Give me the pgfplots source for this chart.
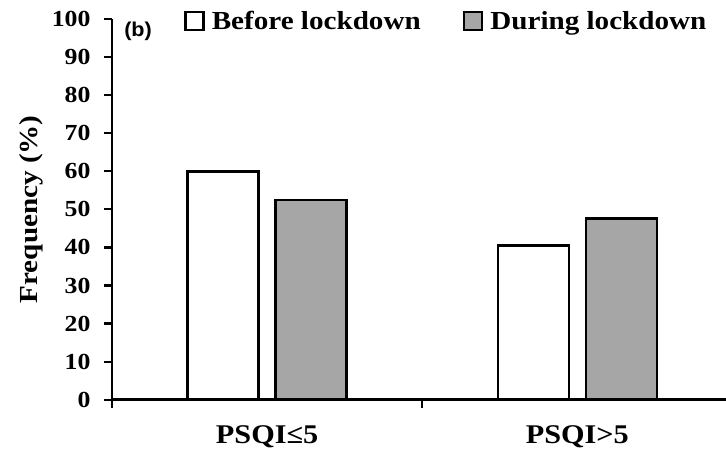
\documentclass[border=0pt]{standalone}
\usepackage{fontspec}
\setmainfont{Liberation Serif}[FakeStretch=1.12]
\newfontfamily\arialb{Liberation Sans}[FakeStretch=1.08]
\usepackage{pgfplots}
\pgfplotsset{compat=1.18}
\definecolor{barg}{RGB}{166,166,166}
\pgfplotsset{sqlegend/.style={legend image code/.code={\draw[##1,/tikz/.cd,line width=2.6pt] (0pt,-9pt) rectangle (18pt,9pt); \path (23pt,0pt);}}}
\begin{document}
\begin{tikzpicture}
\begin{axis}[
  scale only axis, width=620.5pt, height=380.7pt,
  xmin=0, xmax=2, ymin=0, ymax=100,
  axis lines*=left,
  axis line style={line width=2.6pt},
  ytick={0,10,...,100},
  xtick={0,1,2}, xticklabels={PSQI≤5, PSQI>5}, x tick label as interval,
  tick align=outside, major tick length=8pt,
  tick style={line width=2.2pt, black},
  /pgf/number format/assume math mode=true,
  yticklabel style={font=\fontsize{23}{25}\selectfont\bfseries, xshift=-10pt},
  xticklabel style={font=\fontsize{27}{29}\selectfont\bfseries, yshift=-14pt},
  ylabel={Frequency (\%)},
  ylabel style={font=\fontsize{26}{28}\selectfont\bfseries, at={(axis description cs:-0.1305,0.5)}, anchor=center},
  legend style={draw=none, fill=none, inner sep=0pt, at={(rel axis cs:0,1)}, anchor=north west, xshift=72pt, yshift=10pt,
    font=\fontsize{26}{28}\selectfont\bfseries, /tikz/every even column/.append style={column sep=40pt}},
  legend columns=2, legend cell align=left,
  clip=false,
]
\addplot[ybar, sqlegend, bar width=71pt, bar shift=-44pt, fill=white, draw=black, line width=2.6pt]
  coordinates {(0.5,60.0) (1.5,40.5)};
\addlegendentry{Before lockdown}
\addplot[ybar, sqlegend, bar width=71pt, bar shift=44pt, fill=barg, draw=black, line width=2.6pt]
  coordinates {(0.5,52.5) (1.5,47.6)};
\addlegendentry{During lockdown}
\node[font=\fontsize{20}{21}\selectfont\arialb\bfseries] at (axis cs:0.084,96.8) {(b)};
\end{axis}
\pgfresetboundingbox
\path[use as bounding box] (-112pt,-52.3pt) rectangle (614pt,399.7pt);
\end{tikzpicture}
\end{document}
